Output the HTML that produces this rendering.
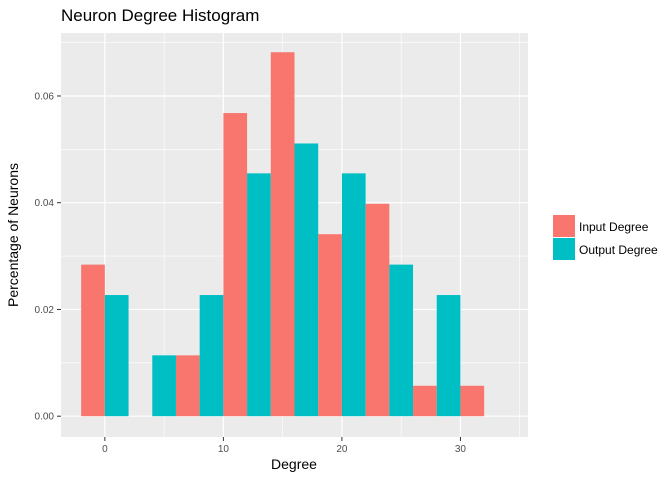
<!DOCTYPE html>
<html><head><meta charset="utf-8"><style>
body{margin:0;background:#fff;font-family:"Liberation Sans",sans-serif;}
</style></head><body>
<svg id="chart" width="672" height="480" xmlns="http://www.w3.org/2000/svg">
<text x="61" y="21" font-size="17" fill="#000">Neuron Degree Histogram</text>
<rect x="61" y="33" width="467" height="404" fill="#ebebeb"/>
<g id="grid"></g>
<g id="bars"></g>
<g id="axes"></g>
<text x="294" y="469" font-size="14" text-anchor="middle">Degree</text>
<text transform="translate(18,235) rotate(-90)" font-size="14" text-anchor="middle">Percentage of Neurons</text>
<g>
<rect x="553" y="215" width="22" height="22" fill="#f8766d"/>
<text x="579" y="231" font-size="12">Input Degree</text>
<rect x="553" y="238" width="22" height="22" fill="#00bfc4"/>
<text x="579" y="254" font-size="12">Output Degree</text>
</g>
</svg>
<script>
const binCenters=[0,4,8,12,16,20,24,28,32];
const inputValues=[0.0284,0,0.0114,0.0568,0.0682,0.0341,0.0398,0.0057,0.0057];
const outputValues=[0.0227,0.0114,0.0227,0.0455,0.0511,0.0455,0.0284,0.0227,0];
const xTicks=[0,10,20,30];
const yTicks=[0,0.02,0.04,0.06];
const yTickLabels=["0.00","0.02","0.04","0.06"];
const binWidth=4;
const NS="http://www.w3.org/2000/svg";
const px0=61,px1=528,py0=437,py1=33,xmin=-3.7,xmax=35.7,ymin=-0.0039,ymax=0.0718;
const xs=v=>px0+(v-xmin)/(xmax-xmin)*(px1-px0);
const ys=v=>py0-(v-ymin)/(ymax-ymin)*(py0-py1);
function mk(tag,attrs,parent){const e=document.createElementNS(NS,tag);for(const k in attrs)e.setAttribute(k,attrs[k]);document.getElementById(parent).appendChild(e);return e;}
for(let i=0;i<xTicks.length+1;i++){const v=xTicks[0]+5+i*10;if(xs(v)<px1){const l=mk('line',{x1:xs(v),x2:xs(v),y1:py1,y2:py0,stroke:'#fff','stroke-width':0.6},'grid');}}
for(let i=0;i<yTicks.length;i++){const v=yTicks[i]+0.01;if(ys(v)>py1){const l=mk('line',{x1:px0,x2:px1,y1:ys(v),y2:ys(v),stroke:'#fff','stroke-width':0.6},'grid');}}
xTicks.forEach(v=>{const l=mk('line',{x1:xs(v),x2:xs(v),y1:py1,y2:py0,stroke:'#fff','stroke-width':1.2},'grid');
const t=mk('line',{x1:xs(v),x2:xs(v),y1:py0,y2:py0+4,stroke:'#333'},'axes');
const tx=mk('text',{x:xs(v),y:py0+15,'font-size':10,fill:'#4d4d4d','text-anchor':'middle'},'axes');tx.textContent=v;});
yTicks.forEach((v,i)=>{const l=mk('line',{x1:px0,x2:px1,y1:ys(v),y2:ys(v),stroke:'#fff','stroke-width':1.2},'grid');
const t=mk('line',{x1:px0-4,x2:px0,y1:ys(v),y2:ys(v),stroke:'#333'},'axes');
const tx=mk('text',{x:px0-7,y:ys(v)+3.5,'font-size':10,fill:'#4d4d4d','text-anchor':'end'},'axes');tx.textContent=yTickLabels[i];});
binCenters.forEach((c,i)=>{
const a=inputValues[i],b=outputValues[i];
if(a>0){const r=mk('rect',{x:xs(c-binWidth/2),y:ys(a),width:xs(c)-xs(c-binWidth/2),height:ys(0)-ys(a),fill:'#f8766d'},'bars');}
if(b>0){const r=mk('rect',{x:xs(c),y:ys(b),width:xs(c+binWidth/2)-xs(c),height:ys(0)-ys(b),fill:'#00bfc4'},'bars');}
});
</script>
</body></html>
